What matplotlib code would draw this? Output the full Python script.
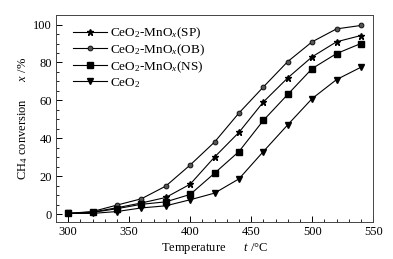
import matplotlib
matplotlib.use("Agg")
import matplotlib.pyplot as plt
from matplotlib.ticker import MultipleLocator

plt.rcParams['font.family'] = ['Liberation Serif', 'DejaVu Serif', 'DejaVu Sans']
plt.rcParams['mathtext.fontset'] = 'custom'
plt.rcParams['mathtext.rm'] = 'Liberation Serif'
plt.rcParams['mathtext.it'] = 'Liberation Serif:italic'

temps = [300, 320, 340, 360, 380, 400, 420, 440, 460, 480, 500, 520, 540]
sp = [0.5, 1.2, 3.5, 6.0, 8.9, 15.9, 30.2, 43.2, 59.2, 71.9, 83.0, 90.9, 94.2]
ob = [0.5, 1.5, 4.9, 8.2, 14.9, 26.0, 38.1, 53.4, 67.1, 80.5, 90.9, 97.7, 99.5]
ns = [0.5, 1.0, 3.0, 5.3, 6.6, 10.5, 21.7, 33.1, 49.5, 63.2, 76.8, 84.7, 90.0]
ceo2 = [0.5, 0.5, 1.5, 3.4, 4.5, 7.7, 11.2, 18.7, 33.1, 47.2, 61.0, 71.0, 77.5]
labels = ["CeO$_2$-MnO$_x$(SP)", "CeO$_2$-MnO$_x$(OB)", "CeO$_2$-MnO$_x$(NS)", "CeO$_2$"]

fig = plt.figure(figsize=(3.93, 2.59), dpi=100)
ax = fig.add_axes([0.1425, 0.143, 0.807, 0.799])

ax.plot(temps, sp, color='black', lw=0.8, marker='*', ms=4.5, mfc='black', mec='black', label=labels[0])
ax.plot(temps, ob, color='black', lw=0.8, marker='o', ms=3.5, mfc='#555555', mec='black', mew=0.6, label=labels[1])
ax.plot(temps, ns, color='black', lw=0.8, marker='s', ms=4, mfc='black', mec='black', label=labels[2])
ax.plot(temps, ceo2, color='black', lw=0.8, marker='v', ms=4, mfc='black', mec='black', label=labels[3])

ax.set_xlim(290, 550)
ax.set_ylim(-4, 105)
ax.xaxis.set_major_locator(MultipleLocator(50))
ax.xaxis.set_minor_locator(MultipleLocator(10))
ax.yaxis.set_major_locator(MultipleLocator(20))
ax.yaxis.set_minor_locator(MultipleLocator(5))
ax.tick_params(which='both', direction='in', top=False, right=False, labelsize=9, pad=3)
ax.tick_params(which='major', length=4, width=0.7)
ax.tick_params(which='minor', length=2, width=0.6)
for s in ax.spines.values():
    s.set_linewidth(0.7)
    s.set_color('#444444')

ax.set_xlabel("Temperature      $t$ /\u00b0C", fontsize=9, labelpad=2)
ax.set_ylabel("CH$_4$ conversion      $x$ /%", fontsize=9, labelpad=2)

ax.legend(loc='upper left', frameon=False, fontsize=9.5, handlelength=2.6,
          handletextpad=0.2, labelspacing=0.1, borderaxespad=0.4,
          bbox_to_anchor=(0.02, 1.0))

fig.savefig("out.png", dpi=100)
